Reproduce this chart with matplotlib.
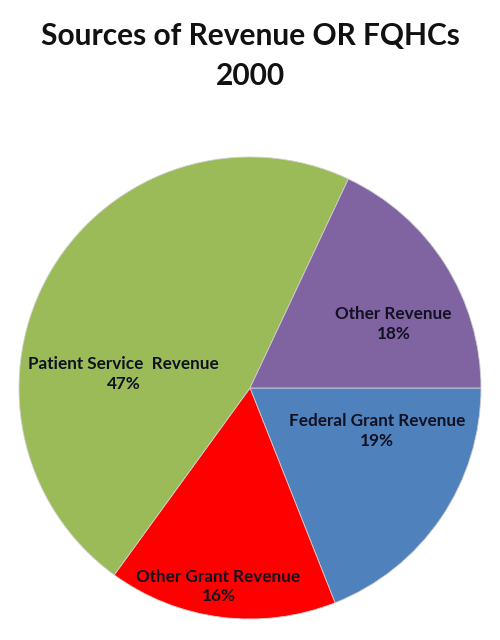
import matplotlib
matplotlib.use("Agg")
import matplotlib.pyplot as plt
import numpy as np

categories = ["Federal Grant Revenue", "Other Grant Revenue", "Patient Service  Revenue", "Other Revenue"]
values = [19, 16, 47, 18]
colors = ["#4F81BD", "#FF0000", "#9BBB59", "#8064A2"]
title_lines = ["Sources of Revenue OR FQHCs", "2000"]

# label placement (radius fraction, angle in degrees)
label_r = [0.58, 0.87, 0.55, 0.68]
label_ang = [-18.7, -99.0, 173.6, 24.0]

fig = plt.figure(figsize=(5, 6.4), dpi=100)
ax = fig.add_axes([19/500, 21/640, 462/500, 462/640])
wedges, _ = ax.pie(values, colors=colors, startangle=0, counterclock=False,
                   radius=1.0, wedgeprops=dict(linewidth=0.6, edgecolor="#cfcfcf"))
ax.set_xlim(-1, 1)
ax.set_ylim(-1, 1)
ax.set_aspect("equal")
ax.axis("off")

for cat, v, r, a in zip(categories, values, label_r, label_ang):
    x = r * np.cos(np.radians(a))
    y = r * np.sin(np.radians(a))
    ax.text(x, y, f"{cat}\n{v}%", ha="center", va="center", fontsize=12.3,
            fontweight="bold", family="Lato", color="#111122", linespacing=1.3)

fig.text(0.5, 0.943, title_lines[0], ha="center", va="center", fontsize=21.5,
         fontweight="bold", family="Lato", color="#111111")
fig.text(0.5, 0.882, title_lines[1], ha="center", va="center", fontsize=21.5,
         fontweight="bold", family="Lato", color="#111111")

fig.savefig("out.png", dpi=100, facecolor="white")
